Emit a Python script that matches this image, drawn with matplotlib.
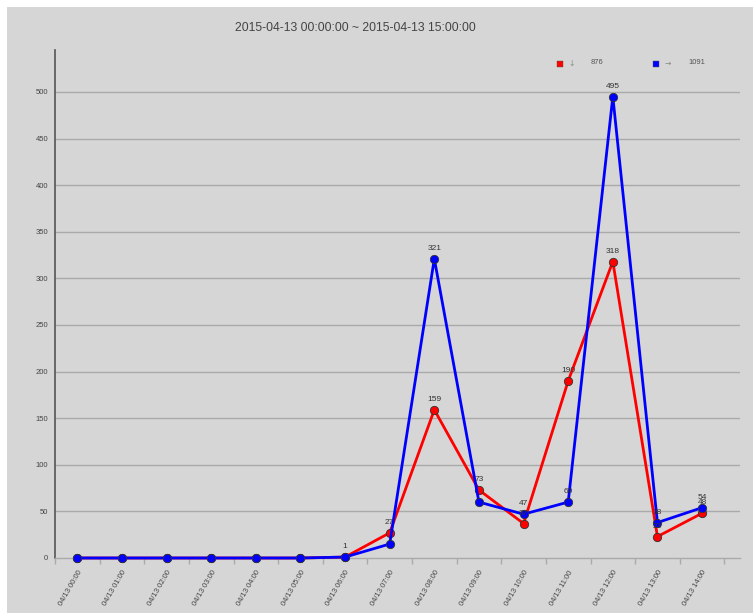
import matplotlib
matplotlib.use("Agg")
import matplotlib.pyplot as plt
from matplotlib.lines import Line2D
from matplotlib.patches import Rectangle

title = "2015-04-13 00:00:00 ~ 2015-04-13 15:00:00"
hours = ["04/13 00:00", "04/13 01:00", "04/13 02:00", "04/13 03:00", "04/13 04:00",
         "04/13 05:00", "04/13 06:00", "04/13 07:00", "04/13 08:00", "04/13 09:00",
         "04/13 10:00", "04/13 11:00", "04/13 12:00", "04/13 13:00", "04/13 14:00"]
red_vals = [0, 0, 0, 0, 0, 0, 1, 27, 159, 73, 37, 190, 318, 23, 48]
blue_vals = [0, 0, 0, 0, 0, 0, 1, 15, 321, 60, 47, 60, 495, 38, 54]
red_name, red_total = "↓", 876
blue_name, blue_total = "→", 1091
blue_hidden_labels = ["04/13 07:00", "04/13 09:00"]
yticks = [0, 50, 100, 150, 200, 250, 300, 350, 400, 450, 500]

W, H = 753, 613
fig = plt.figure(figsize=(W / 100, H / 100), dpi=100)
fig.patch.set_facecolor("white")
bg = "#d6d6d6"
fig.add_artist(Rectangle((7 / W, 0), 1 - 7 / W, 1 - 7 / H, transform=fig.transFigure,
                         facecolor=bg, edgecolor="none", zorder=-10))

ax = fig.add_axes([55 / W, 55 / H, (740 - 55) / W, (558 - 50) / H])
ax.set_facecolor(bg)
ax.patch.set_alpha(0)

x = list(range(len(hours)))
ax.plot(x, red_vals, color="#ff0000", lw=2.0, marker="o", ms=6, mfc="#ff0000",
        mec="#333333", mew=0.6, clip_on=False, zorder=3)
ax.plot(x, blue_vals, color="#0000ff", lw=2.0, marker="o", ms=6, mfc="#0000ff",
        mec="#333333", mew=0.6, clip_on=False, zorder=4)

for i, v in enumerate(red_vals):
    if v > 0:
        ax.annotate(str(v), (i, v), xytext=(0, 5), textcoords="offset points",
                    ha="center", va="bottom", fontsize=6, color="#333333",
                    family="Liberation Sans", zorder=5)
for i, v in enumerate(blue_vals):
    if v > 0 and hours[i] not in blue_hidden_labels and not (v == red_vals[i]):
        ax.annotate(str(v), (i, v), xytext=(0, 5), textcoords="offset points",
                    ha="center", va="bottom", fontsize=6, color="#333333",
                    family="Liberation Sans", zorder=5)

ax.set_xlim(-0.5, 14.85)
ax.set_ylim(0, 545)
ax.set_yticks(yticks)
ax.set_yticklabels([str(t) for t in yticks], fontsize=5.5, color="#444444",
                   family="Liberation Sans")
ax.tick_params(axis="y", length=0, pad=5)
for t in yticks[1:]:
    ax.axhline(t, color="#aaaaaa", lw=1.0, zorder=1)

ax.set_xticks(x)
ax.set_xticklabels(hours, rotation=60, ha="right", rotation_mode="anchor",
                   fontsize=5.5, color="#444444", family="Liberation Sans")
ax.set_xticks([i + 0.5 for i in range(-1, len(hours))], minor=True)
ax.tick_params(axis="x", which="major", length=0, pad=8)
ax.tick_params(axis="x", which="minor", length=4, color="#aaaaaa", width=1)

for s in ["top", "right"]:
    ax.spines[s].set_visible(False)
ax.spines["left"].set_color("#555555")
ax.spines["left"].set_linewidth(1.2)
ax.spines["bottom"].set_color("#aaaaaa")
ax.spines["bottom"].set_linewidth(1.0)

fig.text(355 / W, 1 - 28 / H, title, ha="center", va="center", fontsize=8.8,
         color="#444444", family="Liberation Sans")

# legend
def legend_item(mx, color, name, total, nx, tx):
    fig.add_artist(Line2D([mx / W], [1 - 64 / H], marker="s", ms=4.2, mfc=color,
                          mec="#555555", mew=0.3, transform=fig.transFigure))
    fig.text(nx / W, 1 - 63 / H, name, ha="left", va="center", fontsize=5.5,
             color="#888888", family=["DejaVu Sans"])
    fig.text(tx / W, 1 - 62 / H, str(total), ha="left", va="center", fontsize=5.5,
             color="#555555", family="Liberation Sans")

legend_item(560, "#ff0000", red_name, red_total, 568, 591)
legend_item(656, "#0000ff", blue_name, blue_total, 665, 688)

fig.savefig("out.png", dpi=100, facecolor=fig.get_facecolor())
